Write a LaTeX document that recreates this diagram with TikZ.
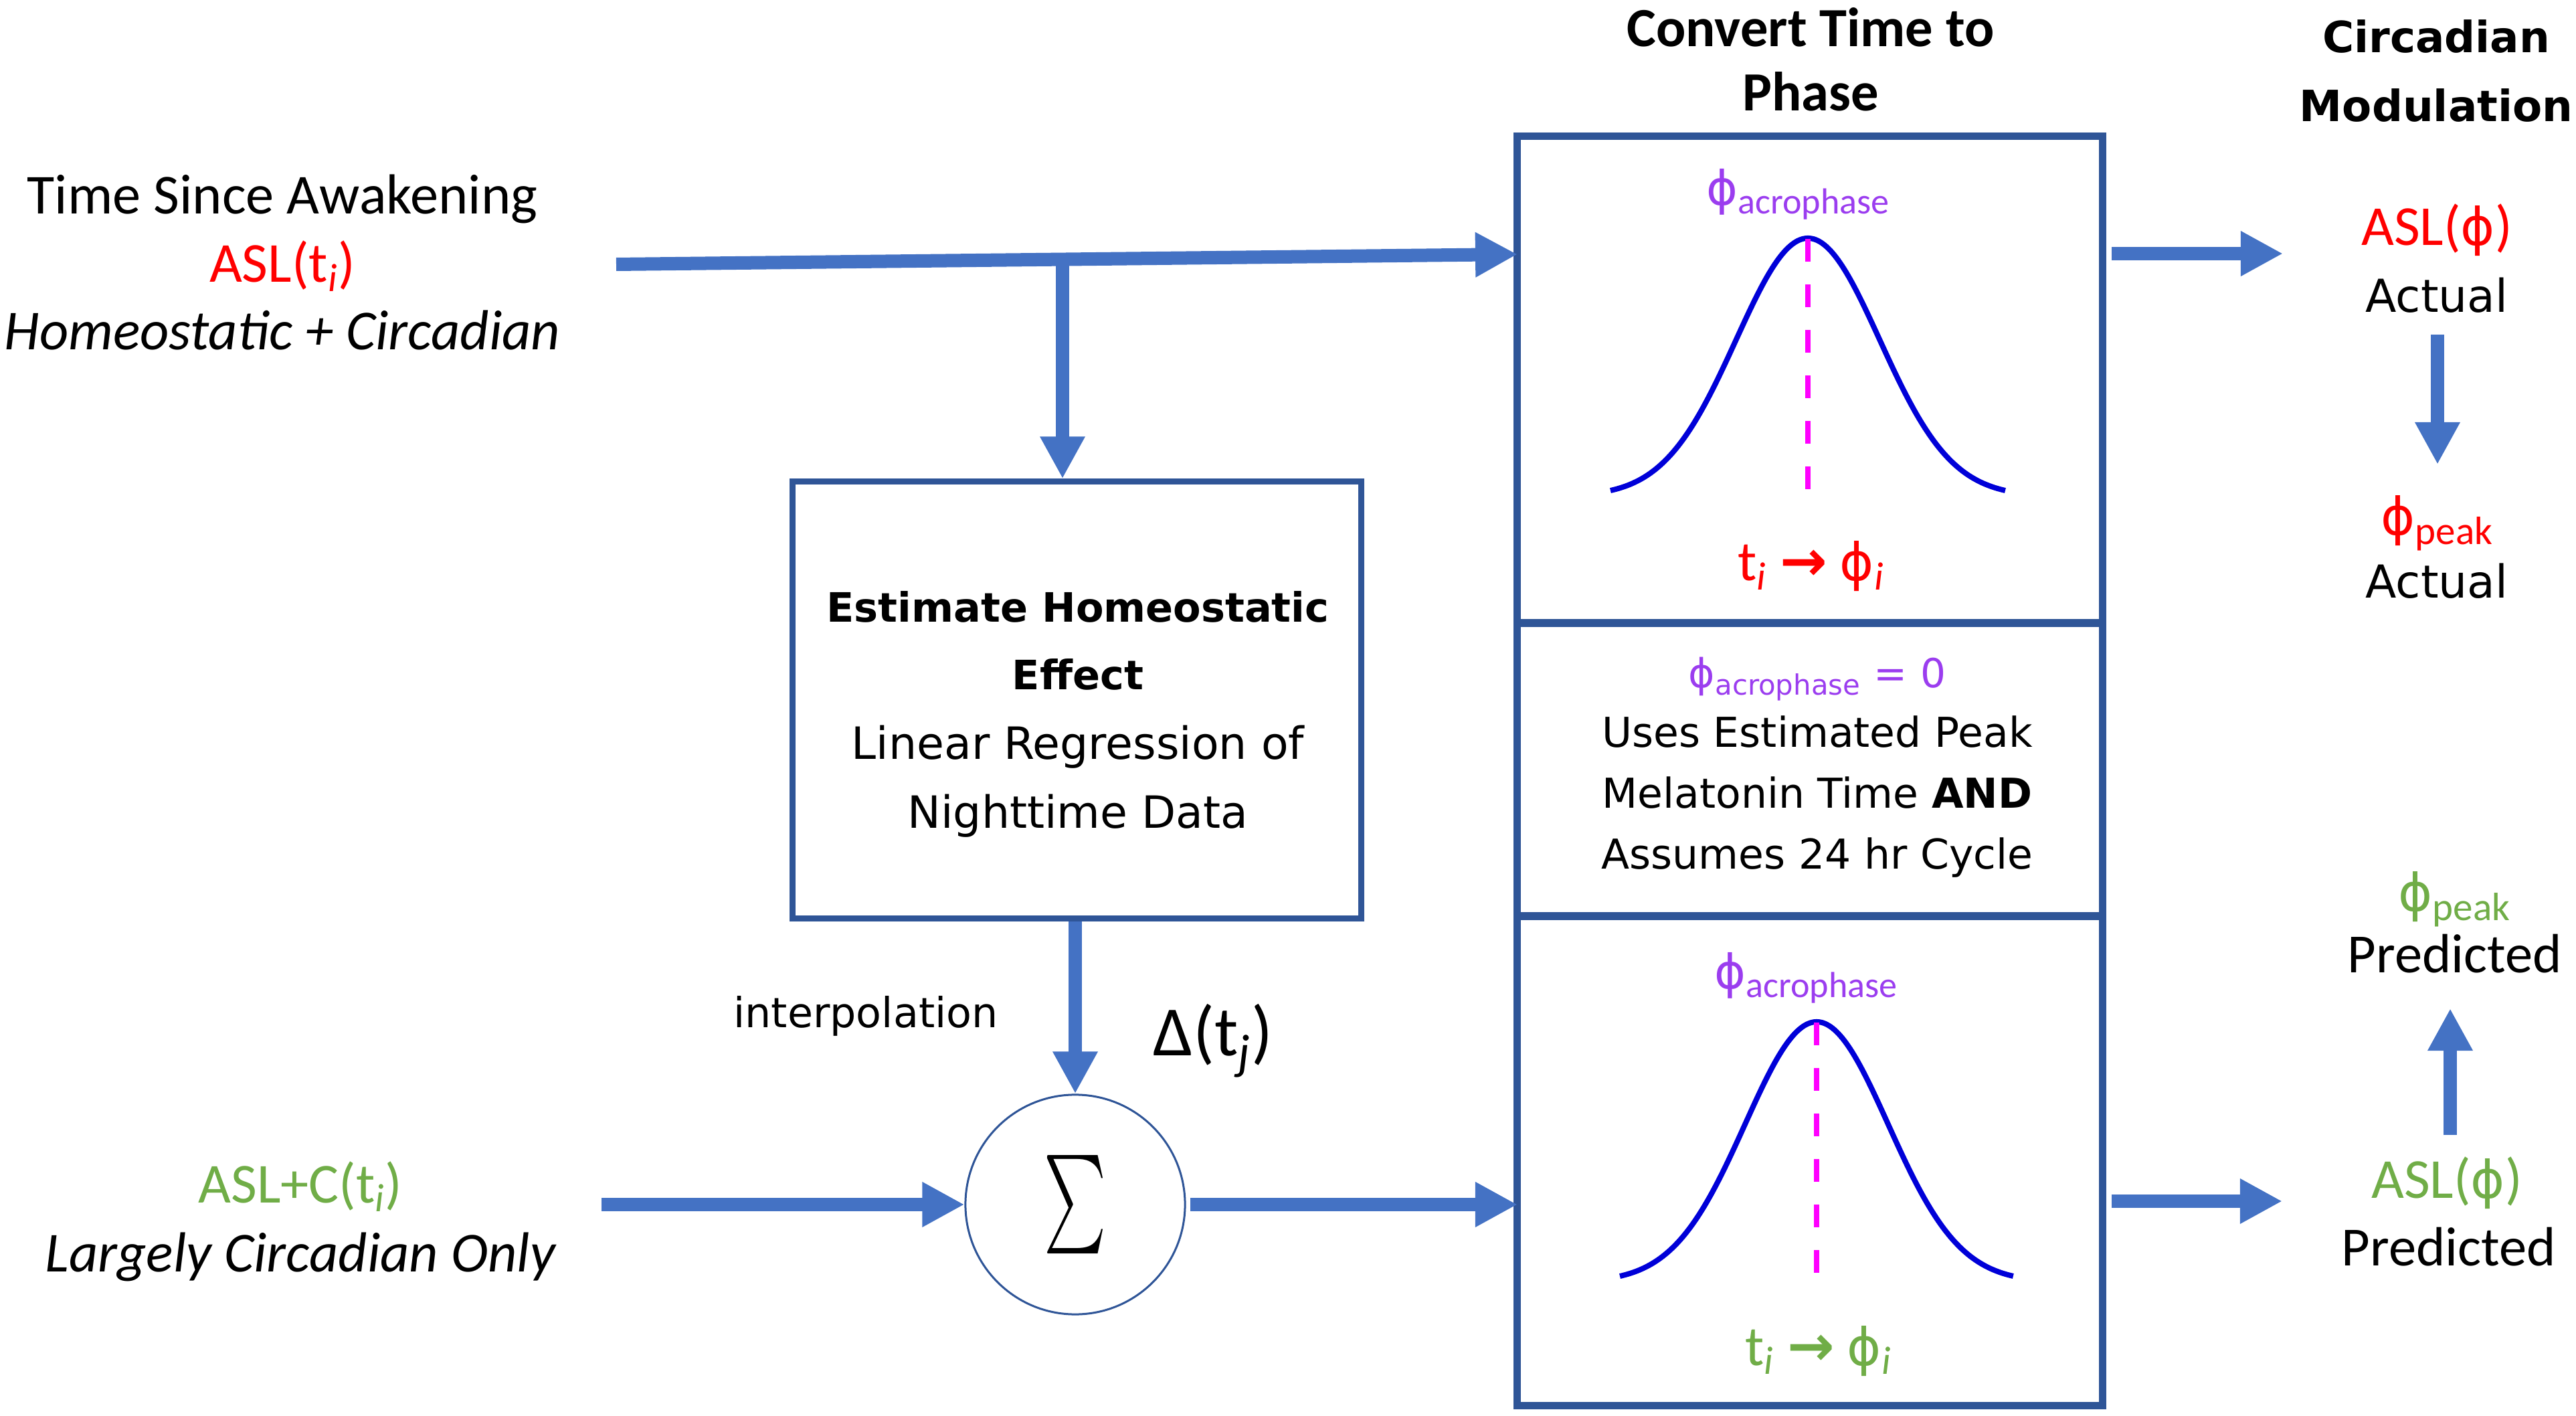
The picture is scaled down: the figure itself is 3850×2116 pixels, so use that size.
\documentclass[tikz,border=0pt]{standalone}
\usepackage{fontspec}
\usepackage{graphicx}
\setmainfont{Carlito}
\newfontfamily\verd{DejaVu Sans}
\usetikzlibrary{arrows.meta}
\definecolor{boxblue}{HTML}{2F5597}
\definecolor{arrblue}{HTML}{4472C4}
\definecolor{curveblue}{HTML}{0000D8}
\definecolor{dashmag}{HTML}{FF00FF}
\definecolor{acro}{HTML}{9B3DEF}
\definecolor{redt}{HTML}{FF0000}
\definecolor{greent}{HTML}{70AD47}
\newcommand{\sbt}[1]{\textsubscript{#1}}
\newcommand{\fs}[2]{\fontsize{#1}{#2}\selectfont}
\newcommand{\arr}{{\verd\bfseries →}}
\newcommand{\ph}{{\verd\fontsize{0.92\dimexpr\csname f@size\endcsname pt\relax}{1em}\selectfont ϕ}}
\begin{document}
\begin{tikzpicture}[x=0.01cm,y=-0.01cm,
  cal/.style={inner sep=0pt, anchor=base, font=\fs{24}{28}},
  ver/.style={inner sep=0pt, anchor=base, font=\verd\fs{18}{22}},
  flow/.style={draw=arrblue, line width=0.2cm, -{Triangle[width=0.63cm,length=0.63cm]}},
  panel/.style={draw=boxblue, line width=0.11cm, minimum width=8.74cm, inner sep=0pt},
  curve/.style={draw=curveblue, line width=0.08cm},
  peakline/.style={draw=dashmag, line width=0.08cm, dash pattern=on 0.34cm off 0.34cm},
]
\useasboundingbox (0,0) rectangle (3850,2116);

% phase panels
\node[panel, minimum height=7.27cm] (p1) at (2705,567.5) {};
\node[panel, minimum height=4.38cm] (p2) at (2705,1150) {};
\node[panel, minimum height=7.31cm] (p3) at (2705,1734.5) {};

% estimate box and summation
\node[draw=boxblue, line width=0.09cm, minimum width=8.49cm, minimum height=6.52cm, inner sep=0pt] (est) at (1609.5,1046) {};
\node[circle, draw=boxblue, line width=0.03cm, minimum size=3.28cm, inner sep=0pt] (sum) at (1607,1800) {\resizebox*{0.93cm}{1.47cm}{$\sum$}};

% headers
\node[cal, font=\fs{23.5}{28}] (h1a) at (2706,70) {\bfseries Convert Time to};
\node[cal, font=\fs{23.5}{28}] (h1b) at (2706,166) {\bfseries Phase};
\node[ver, font=\verd\bfseries\fs{18.3}{22}] (h2a) at (3641,79) {Circadian};
\node[ver, font=\verd\bfseries\fs{18.3}{22}] (h2b) at (3641,182) {Modulation};

% left inputs
\node[cal] (tsa) at (422,320) {Time Since Awakening};
\node[cal, text=redt] (asl) at (422,422) {ASL(t\sbt{\itshape i})};
\node[cal] (hc) at (422,523) {\itshape Homeostatic + Circadian};
\node[cal, text=greent] (aslc) at (449,1797) {ASL+C(t\sbt{\itshape i})};
\node[cal] (lco) at (449,1900) {\itshape Largely Circadian Only};

% estimate box text
\node[ver, font=\verd\bfseries\fs{17.2}{22}] (e1) at (1611,930) {Estimate Homeostatic};
\node[ver, font=\verd\bfseries\fs{17.2}{22}] (e2) at (1611,1031) {Effect};
\node[ver, font=\verd\fs{18.9}{22}] (e3) at (1611,1135) {Linear Regression of};
\node[ver, font=\verd\fs{18.9}{22}] (e4) at (1611,1238) {Nighttime Data};

\node[ver, font=\verd\fs{17.6}{22}] (interp) at (1294,1535) {interpolation};
\node[cal, font=\fs{30}{34}] (delta) at (1813,1577) {Δ(t\sbt{\itshape j})};

% top panel
\node[cal, text=acro, font=\fs{22}{26}] (ac1) at (2688,307) {\ph\sbt{acrophase}};
\draw[curve] plot[domain=-2.75:2.75, samples=100, smooth] ({2702+107.3*\x}, {733-377*(exp(-0.5*\x*\x)-0.0228)/0.9772});
\draw[peakline] (2702,357) -- (2702,733);
\node[cal, text=redt] (tp1) at (2707,868) {t\sbt{\itshape i} \arr{} \ph\sbt{\itshape i}};

% middle panel
\node[ver, text=acro, font=\verd\fs{17}{22}] (m0) at (2716,1028) {ϕ\sbt{acrophase} = 0};
\node[ver, font=\verd\fs{17.5}{22}] (m1) at (2716,1117) {Uses Estimated Peak};
\node[ver, font=\verd\fs{17.5}{22}] (m2) at (2716,1208) {Melatonin Time \textbf{AND}};
\node[ver, font=\verd\fs{17.5}{22}] (m3) at (2716,1299) {Assumes 24 hr Cycle};

% bottom panel
\node[cal, text=acro, font=\fs{22}{26}] (ac3) at (2700,1478) {\ph\sbt{acrophase}};
\draw[curve] plot[domain=-2.75:2.75, samples=100, smooth] ({2715+106.9*\x}, {1907-380*(exp(-0.5*\x*\x)-0.0228)/0.9772});
\draw[peakline] (2715,1528) -- (2715,1907);
\node[cal, text=greent] (tp3) at (2718,2040) {t\sbt{\itshape i} \arr{} \ph\sbt{\itshape i}};

% right column
\node[cal, text=redt] (ra1) at (3642,367) {ASL(\ph)};
\node[ver, font=\verd\fs{19.3}{22}] (ra2) at (3642,467) {Actual};
\node[cal, text=redt] (rp1) at (3643,800) {\ph\sbt{peak}};
\node[ver, font=\verd\fs{19.3}{22}] (rp2) at (3642,894) {Actual};
\node[cal, text=greent] (gp1) at (3669,1362) {\ph\sbt{peak}};
\node[cal, font=\fs{23.5}{28}] (gp2) at (3669,1453) {Predicted};
\node[cal, text=greent] (ga1) at (3657,1790) {ASL(\ph)};
\node[cal, font=\fs{23.5}{28}] (ga2) at (3660,1891) {Predicted};

% connectors
\coordinate (in1) at (921,395);
\coordinate (a1) at (2268,380);
\coordinate (br) at (1588,389);
\coordinate (in2) at (899,1800);
\coordinate (a3) at (2268,1800);
\coordinate (o1) at (3412,379);
\coordinate (o3) at (3411,1795);
\coordinate (d1) at (3643,500);
\coordinate (d2) at (3643,694);
\coordinate (u1) at (3662,1696);
\coordinate (u2) at (3662,1507);

\draw[flow] (in1) -- (a1);
\draw[flow] (br) -- (br |- est.north);
\draw[flow] (est.south -| sum.north) -- (sum.north);
\draw[flow] (in2) -- (sum.west);
\draw[flow, shorten <=0.06cm] (sum.east) -- (a3);
\draw[flow, shorten <=0.08cm] (o1 -| p1.east) -- (o1);
\draw[flow, shorten <=0.08cm] (o3 -| p3.east) -- (o3);
\draw[flow] (d1) -- (d2);
\draw[flow] (u1) -- (u2);
\end{tikzpicture}
\end{document}
